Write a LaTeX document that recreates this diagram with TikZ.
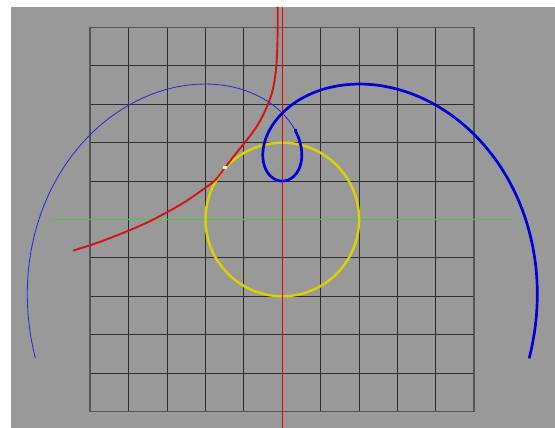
\documentclass[tikz,border=0pt]{standalone}
\usepackage{xcolor}
\definecolor{bggray}{RGB}{153,153,153}
\definecolor{gridgray}{RGB}{45,45,45}
\definecolor{framegray}{RGB}{85,85,85}
\definecolor{traceblue}{RGB}{0,0,215}
\definecolor{rollred}{RGB}{210,20,20}
\definecolor{axisred}{RGB}{240,0,0}
\definecolor{axisgreen}{RGB}{70,205,50}
\definecolor{baseyellow}{RGB}{220,210,0}
\usepackage{tikz}
\usetikzlibrary{calc}

\begin{document}
\begin{tikzpicture}[x=1cm, y=1cm,
    declare function={
      bx(\t)=-sin(\t r)+2.15*\t*cos(\t r);
      by(\t)=cos(\t r)+2.15*\t*sin(\t r);
      dl(\t)=1.4*max(\t-1.2,0)^2-1.4*max(-\t-1.2,0)^2;
      px(\t)=bx(\t)*cos(dl(\t))-by(\t)*sin(dl(\t));
      py(\t)=bx(\t)*sin(dl(\t))+by(\t)*cos(dl(\t));
    },
    gridline/.style={draw=gridgray, line width=0.6pt},
    frameline/.style={draw=framegray, line width=1.3pt},
    tracedone/.style={draw=traceblue, line width=2pt, line join=round},
    tracetodo/.style={draw=traceblue!85!white, line width=0.6pt},
    rollcurve/.style={draw=rollred, line width=1.4pt}]
  % page and background
  \useasboundingbox (-7.352,-5.430) rectangle (7.102,5.716);
  \fill[white] (-7.352,-5.430) rectangle (7.102,5.716);
  \fill[bggray] (-7.065,-5.430) rectangle (7.102,5.534);
  % grid
  \draw[gridline] (-5,-5) grid (5,5);
  \draw[frameline] (-5,-5) rectangle (5,5);
  % axes
  \draw[draw=axisgreen, line width=1pt] (-6,0) -- (6,0);
  % fixed circle
  \draw[baseyellow, line width=1.8pt] (0,0) circle (2);
  % rolling curve
  \draw[rollcurve] plot[smooth, tension=0.5] coordinates {
    (-0.12,5.534) (-0.12,5.0) (-0.13,4.5) (-0.155,4.0) (-0.2,3.63)
    (-0.27,3.29) (-0.374,3.0) (-0.52,2.68) (-0.70,2.37) (-0.98,2.0)
    (-1.24,1.68) (-1.49,1.35) (-1.76,1.01) (-2.0,0.83) (-2.5,0.48)
    (-3.0,0.19) (-3.5,-0.07) (-4.0,-0.29) (-4.5,-0.49) (-5.0,-0.67)
    (-5.45,-0.81)};
  \draw[axisred, line width=0.6pt] (0,5.534) -- (0,-5.430);
  % traced curve, thin part
  \draw[tracetodo] plot[domain=0.985:3.40, samples=120, smooth]
    ({px(\x)}, {py(\x)});
  % traced curve, thick part
  \draw[tracedone] plot[domain=-3.40:0.985, samples=180, smooth]
    ({px(\x)}, {py(\x)});
  % markers
  \coordinate (tracer) at ({px(0.985)}, {py(0.985)});
  \coordinate (contact) at (-1.49,1.35);
  \fill[traceblue] ($(tracer)+(-0.035,-0.035)$) rectangle ($(tracer)+(0.035,0.035)$);
  \fill[white!85!gray] ($(contact)+(-0.045,-0.045)$) rectangle ($(contact)+(0.045,0.045)$);
\end{tikzpicture}
\end{document}
